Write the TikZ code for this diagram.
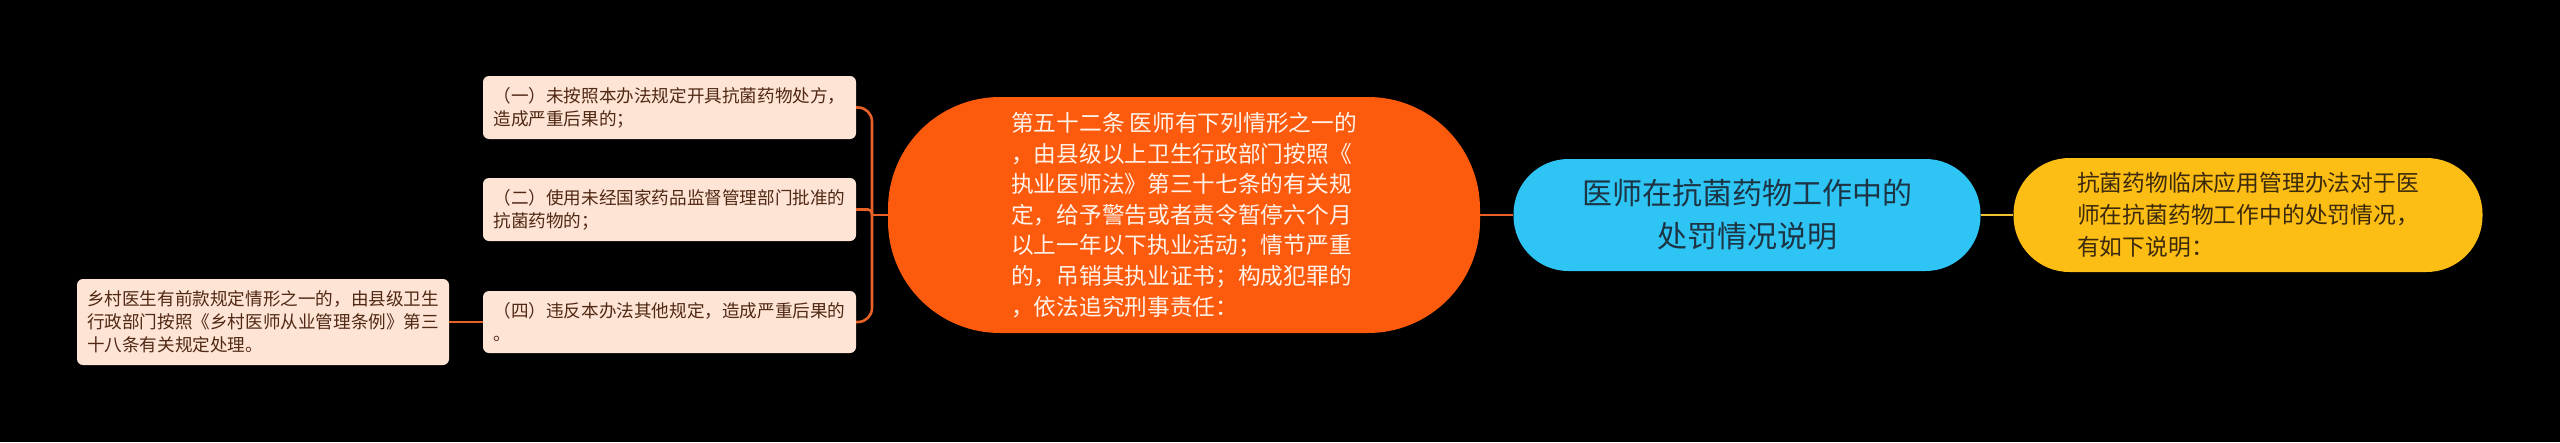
\documentclass[tikz,border=0pt]{standalone}
\usepackage{fontspec}
\newfontfamily\cjk{Noto Sans CJK SC}
\definecolor{oraFill}{RGB}{252,90,12}
\definecolor{bluFill}{RGB}{46,197,245}
\definecolor{yelFill}{RGB}{252,189,20}
\definecolor{peach}{RGB}{253,228,213}
\definecolor{peachText}{RGB}{80,40,20}
\definecolor{oraLine}{RGB}{232,98,40}
\definecolor{yelLine}{RGB}{240,192,48}
\definecolor{bluText}{RGB}{28,52,68}
\definecolor{yelText}{RGB}{60,42,12}
\definecolor{oraText}{RGB}{255,242,232}
\tikzset{
  pill/.style={rectangle, inner sep=0pt, align=left},
  leafbox/.style={rectangle, rounded corners=6pt, fill=peach, text=peachText, inner sep=0pt, align=left,
    font={\cjk\fontsize{17.6}{23}\selectfont}},
  oline/.style={draw=oraLine, line width=2.6pt},
  yline/.style={draw=yelLine, line width=2.6pt},
}
\begin{document}
\begin{tikzpicture}[x=1pt,y=-1pt]
\fill[black] (0,0) rectangle (2560,442);
\useasboundingbox (0,0) rectangle (2560,442);

% main nodes
\node[pill, fill=bluFill, rounded corners=55pt, minimum width=467pt, minimum height=112pt,
  text=bluText, align=center, font={\cjk\fontsize{30}{43}\selectfont}] (root) at (1747,215)
  {医师在抗菌药物工作中的\\处罚情况说明};

\node[pill, fill=yelFill, rounded corners=56pt, minimum width=469pt, minimum height=114pt,
  text=yelText, font={\cjk\fontsize{22.8}{31.7}\selectfont}] (yel) at (2248,215)
  {抗菌药物临床应用管理办法对于医\\师在抗菌药物工作中的处罚情况，\\有如下说明：};

\node[pill, fill=oraFill, rounded corners=112pt, minimum width=592pt, minimum height=236pt,
  text=oraText, font={\cjk\fontsize{22.7}{30.6}\selectfont}] (ora) at (1184,215)
  {第五十二条 医师有下列情形之一的\\，由县级以上卫生行政部门按照《\\执业医师法》第三十七条的有关规\\定，给予警告或者责令暂停六个月\\以上一年以下执业活动；情节严重\\的，吊销其执业证书；构成犯罪的\\，依法追究刑事责任：};

% leaves
\node[leafbox, minimum width=373pt, minimum height=63pt] (b1) at (669.5,107.5)
  {（一）未按照本办法规定开具抗菌药物处方，\\造成严重后果的；};
\node[leafbox, minimum width=373pt, minimum height=63pt] (b2) at (669.5,209.5)
  {（二）使用未经国家药品监督管理部门批准的\\抗菌药物的；};
\node[leafbox, minimum width=373pt, minimum height=62pt] (b4) at (669.5,322)
  {（四）违反本办法其他规定，造成严重后果的\\。};
\node[leafbox, minimum width=372pt, minimum height=86pt] (far) at (263,322)
  {乡村医生有前款规定情形之一的，由县级卫生\\行政部门按照《乡村医师从业管理条例》第三\\十八条有关规定处理。};

% connectors
\draw[oline] (ora.east) -- (root.west);
\draw[yline] (root.east) -- (yel.west);
\coordinate (j) at (872,215);
\draw[oline] (ora.west) -- (j);
\draw[oline, rounded corners=14pt] (j) |- (b1.east);
\draw[oline, rounded corners=4pt] (j) |- (b2.east);
\draw[oline, rounded corners=14pt] (j) |- (b4.east);
\draw[oline] (far.east) -- (b4.west);
\end{tikzpicture}
\end{document}
